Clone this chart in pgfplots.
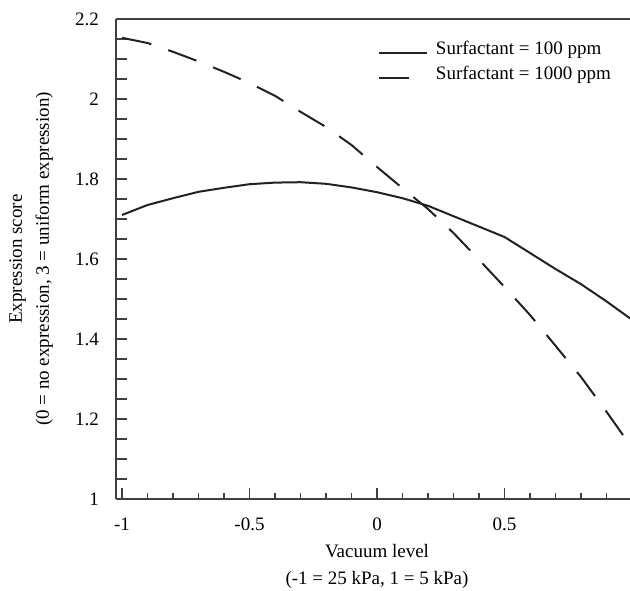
\documentclass[border=0pt]{standalone}
\usepackage{fontspec}
\setmainfont{Liberation Serif}
\usepackage{pgfplots}
\pgfplotsset{compat=1.18}
\definecolor{ink}{HTML}{222222}
\definecolor{axisc}{HTML}{404040}
\begin{document}
\begin{tikzpicture}[font=\fontsize{9.5}{13.5}\selectfont]
\path[use as bounding box] (-58pt,-45.5pt) rectangle (257pt,249.5pt);
\begin{axis}[
  at={(0,0)}, anchor=south west,
  scale only axis, width=257pt, height=240pt,
  xmin=-1.0235, xmax=0.992, ymin=1, ymax=2.2,
  axis x line=box, axis y line=left,
  x axis line style={-}, y axis line style={-},
  axis line style={draw=axisc, line width=0.6pt},
  xtick={-1,-0.5,0,0.5}, xticklabels={-1,-0.5,0,0.5},
  minor xtick={-0.9,-0.8,-0.7,-0.6,-0.4,-0.3,-0.2,-0.1,0.1,0.2,0.3,0.4,0.6,0.7,0.8,0.9},
  ytick={1,1.05,1.1,1.15,1.2,1.25,1.3,1.35,1.4,1.45,1.5,1.55,1.6,1.65,1.7,1.75,1.8,1.85,1.9,1.95,2,2.05,2.1,2.15,2.2},
  yticklabels={1,,,,1.2,,,,1.4,,,,1.6,,,,1.8,,,,2,,,,2.2},
  xtick pos=bottom, ytick pos=left,
  tick align=inside,
  major tick length=5.5pt, minor tick length=2.8pt,
  tick style={draw=axisc, line width=0.6pt},
  xticklabel style={yshift=-6pt},
  yticklabel style={xshift=-5pt},
  xlabel={Vacuum level\\(-1 = 25 kPa, 1 = 5 kPa)},
  every axis x label/.style={at={(axis cs:0,1)}, anchor=center, yshift=-33.5pt, align=center},
  ylabel={Expression score\\(0 = no expression, 3 = uniform expression)},
  every axis y label/.style={at={(axis description cs:0,0.5)}, rotate=90, anchor=center, yshift=42.5pt, align=center},
  legend style={draw=none, fill=none, inner sep=0pt, outer sep=0pt,
    at={(axis description cs:0.5097,0.9021)}, anchor=west,
    column sep=4pt, row sep=0pt,
    nodes={inner sep=0pt, text height=7pt, text depth=5.5pt, anchor=west}},
  legend cell align=left,
  legend image code/.code={\draw[#1] (0pt,0pt) -- (24pt,0pt);},
]
\addplot[ink, line width=1pt] coordinates {
(-1,1.71) (-0.9,1.735) (-0.8,1.752) (-0.7,1.768) (-0.6,1.778) (-0.5,1.787)
(-0.4,1.791) (-0.3,1.792) (-0.2,1.788) (-0.1,1.779) (0,1.767) (0.1,1.752)
(0.2,1.733) (0.3,1.707) (0.4,1.681) (0.5,1.655) (0.6,1.615) (0.7,1.575)
(0.8,1.537) (0.9,1.494) (1.0,1.448)};
\addlegendentry{Surfactant = 100 ppm}
\addplot[ink, line width=1pt, dash pattern=on 15pt off 9pt] coordinates {
(-1,2.153) (-0.9,2.14) (-0.8,2.118) (-0.7,2.094) (-0.6,2.068) (-0.5,2.04)
(-0.4,2.008) (-0.3,1.968) (-0.2,1.93) (-0.1,1.885) (0,1.83) (0.1,1.777)
(0.2,1.725) (0.3,1.665) (0.4,1.598) (0.5,1.53) (0.6,1.46) (0.7,1.383)
(0.8,1.305) (0.9,1.218) (1.0,1.128)};
\addlegendentry{Surfactant = 1000 ppm}
\end{axis}
\end{tikzpicture}
\end{document}
